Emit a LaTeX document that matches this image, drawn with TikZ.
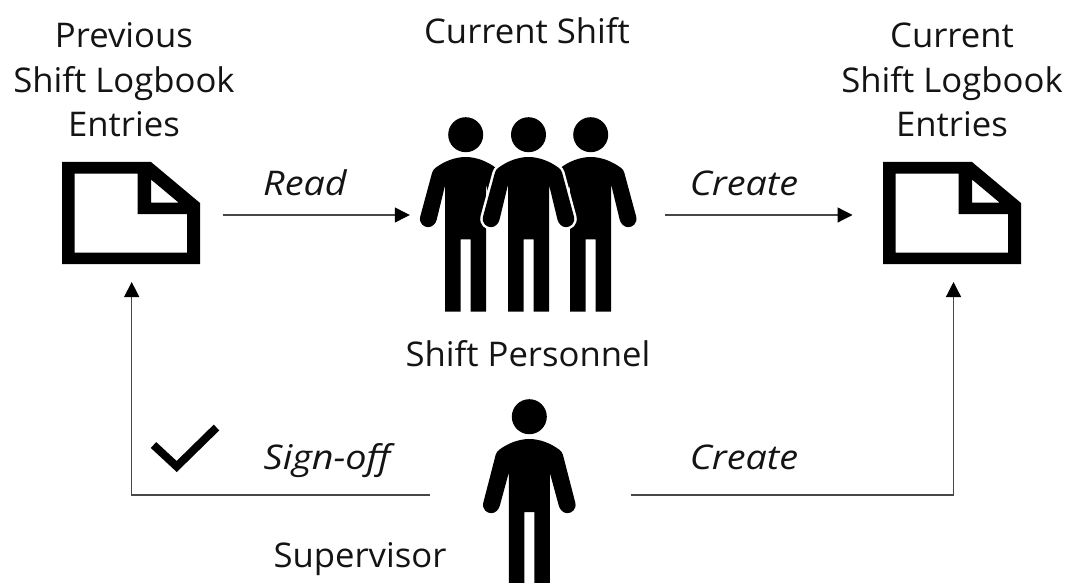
\documentclass[tikz,border=0pt]{standalone}
\usepackage{fontspec}
\setmainfont{Open Sans}[FakeStretch=1.02]
\newfontfamily\stretchit{Open Sans}[FakeStretch=1.11]
\usetikzlibrary{arrows.meta}
\tikzset{
  lab/.style={anchor=base,inner sep=0pt,font=\fontsize{34}{44.5}\selectfont,text=black!92},
  ilab/.style={lab,font=\fontsize{34}{44.5}\stretchit\itshape\selectfont},
  conn/.style={draw=black!72,line width=1.25pt},
  arr/.style={conn,-{Triangle[length=15pt,width=15pt,color=black]}},
  anchorbox/.style={inner sep=0pt,minimum width=#1,minimum height=102pt},
}
\newcommand{\docicon}[1]{%
  \fill[black,even odd rule,shift={(#1,0)}]
    (62,162)--(151,162)--(200,203)--(200,264)--(62,264)--cycle
    (74.5,173.5)--(137.5,173.5)--(137.5,214)--(187,214)--(187,252.5)--(74.5,252.5)--cycle
    (151,179.5)--(151,202.5)--(178.5,202.5)--cycle;
}
% head x, head y, hand centre dy, crotch dy, foot dy, half hand reach, armpit dy
\newcommand{\figpath}[7]{%
  [shift={(#1,#2)}]
  (0,22.3) .. controls (-11,22.3) and (-22,27) .. (-30,33)
  .. controls (-32,34.5) and (-33,36) .. (-33.6,38)
  -- (-#6,#3-2) .. controls (-#6-1.5,#3+5) and (-#6+4,#3+8.5) .. (-#6+8,#3+8.5)
  .. controls (-#6+12,#3+8.5) and (-#6+15.5,#3+5) .. (-#6+16.5,#3+1)
  -- (-20.5,#7) -- (-20.5,#5) -- (-5,#5) -- (-5,#4) -- (5,#4) -- (5,#5) -- (20.5,#5) -- (20.5,#7)
  -- (#6-16.5,#3+1) .. controls (#6-15.5,#3+5) and (#6-12,#3+8.5) .. (#6-8,#3+8.5)
  .. controls (#6-4,#3+8.5) and (#6+1.5,#3+5) .. (#6,#3-2)
  -- (33.6,38) .. controls (33,36) and (32,34.5) .. (30,33)
  .. controls (22,27) and (11,22.3) .. (0,22.3) -- cycle
  (17.5,0) arc[start angle=0,end angle=360,radius=17.5]
}
\begin{document}
\begin{tikzpicture}[x=1pt,y=-1pt]
\useasboundingbox (0,0) rectangle (1071,583);
% icons
\docicon{0}
\docicon{821}
\fill \figpath{465.7}{134.7}{84}{104.6}{177}{45.5}{50};
\fill \figpath{590.7}{134.7}{84}{104.6}{177}{45.5}{50};
\path[draw=white,line width=5pt] \figpath{528.5}{134.7}{84}{104.6}{177}{45.5}{50};
\fill[white,shift={(528.5,134.7)}] (-20.5,50)--(-20.5,95.5)--(-34,95.5)--(-34,85)--cycle
  (20.5,50)--(20.5,95.5)--(34,95.5)--(34,85)--cycle;
\fill \figpath{528.5}{134.7}{84}{104.6}{177}{45.5}{50};
\fill \figpath{529.3}{416.7}{88}{95.5}{190}{46}{56};
\draw[line width=8pt,miter limit=10] (153.5,445)--(176.7,466.5)--(216.5,427.5);
% invisible anchors for the icons
\node[anchorbox=138pt,outer xsep=22pt,outer ysep=18pt] (prev) at (131.7,213) {};
\node[anchorbox=138pt,outer xsep=32pt,outer ysep=18pt] (curr) at (953.5,213) {};
\node[inner sep=0pt,minimum width=255pt,minimum height=170pt] (crew) at (537.5,215) {};
\node[inner sep=0pt,minimum width=201pt,minimum height=60pt] (sup) at (530.5,495) {};
% connectors
\draw[arr] (prev.east |- crew.west) -- (crew.west);
\draw[arr] (crew.east) -- (curr.west |- crew.east);
\draw[arr] (sup.west) -| (prev.south);
\draw[arr] (sup.east) -| (curr.south);
% labels
\node[lab] (t1) at (124,47.5) {Previous};
\node[lab] (t2) at (124,92.5) {Shift Logbook};
\node[lab] (t3) at (124,136.5) {Entries};
\node[lab] (t4) at (527,43.5) {Current Shift};
\node[lab] (t5) at (952,47.5) {Current};
\node[lab] (t6) at (952,92.5) {Shift Logbook};
\node[lab] (t7) at (952,136.5) {Entries};
\node[ilab] (t8) at (305,195.5) {Read};
\node[ilab] (t9) at (744,195.5) {Create};
\node[lab] (t10) at (528,366.5) {Shift Personnel};
\node[ilab] (t11) at (327,469.5) {Sign-off};
\node[ilab] (t12) at (744,469.5) {Create};
\node[lab] (t13) at (360,567.5) {Supervisor};
\end{tikzpicture}
\end{document}
